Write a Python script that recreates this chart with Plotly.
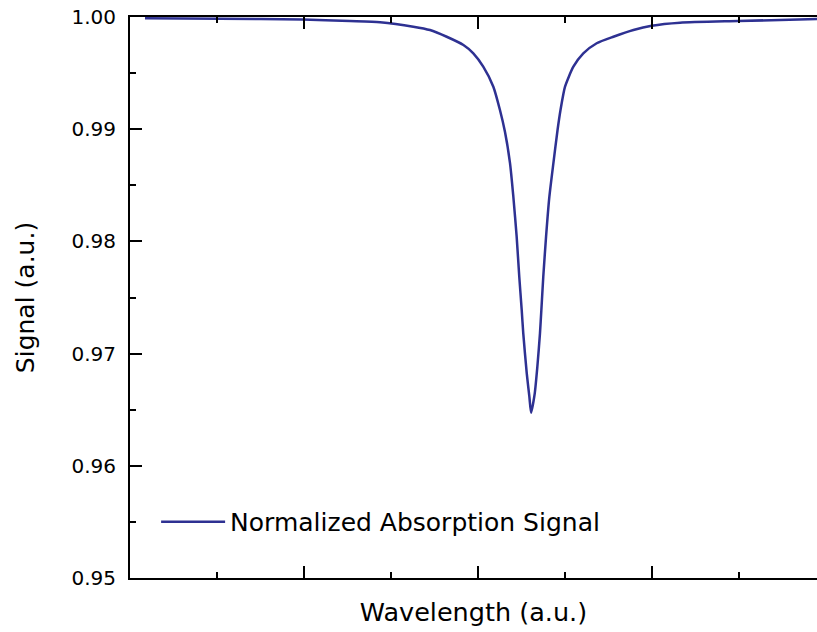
import plotly.graph_objects as go

# Wavelength (arbitrary units, major ticks at 0,1,2,3)
wavelength = [0.086, 0.517, 0.994, 1.264, 1.437, 1.628, 1.724, 1.820, 1.916, 1.973,
              2.030, 2.088, 2.126, 2.155, 2.184, 2.203, 2.222, 2.237, 2.251, 2.260,
              2.280, 2.295, 2.305, 2.326, 2.341, 2.356, 2.364, 2.375, 2.391, 2.410,
              2.433, 2.457, 2.474, 2.500, 2.548, 2.605, 2.682, 2.778, 2.893, 2.998,
              3.161, 3.494, 3.948]
signal = [0.99988, 0.99984, 0.99978, 0.99964, 0.99953, 0.99914, 0.99884, 0.99824, 0.99750, 0.99676,
          0.99557, 0.99379, 0.99171, 0.98975, 0.98696, 0.98398, 0.98042, 0.97685, 0.97389, 0.97181,
          0.96824, 0.96616, 0.96473, 0.96646, 0.96883, 0.97181, 0.97389, 0.97685, 0.98042, 0.98398,
          0.98696, 0.98993, 0.99171, 0.99379, 0.99557, 0.99676, 0.99766, 0.99824, 0.99884, 0.99922,
          0.99949, 0.99964, 0.99982]

series_name = "Normalized Absorption Signal"
x_title = "Wavelength (a.u.)"
y_title = "Signal (a.u.)"
y_tickvals = [0.95, 0.96, 0.97, 0.98, 0.99, 1.00]
y_ticktext = ["0.95", "0.96", "0.97", "0.98", "0.99", "1.00"]

LINE_COLOR = "#2E3192"
FONT = "DejaVu Sans, Verdana, sans-serif"

fig = go.Figure()
fig.add_trace(go.Scatter(
    x=wavelength, y=signal, mode="lines", name=series_name,
    line=dict(color=LINE_COLOR, width=2.5, shape="spline", smoothing=0.6),
    showlegend=True,
))

fig.update_layout(
    width=817, height=632,
    margin=dict(l=130, r=0, t=17, b=54, autoexpand=False),
    paper_bgcolor="white", plot_bgcolor="white",
    font=dict(family=FONT, color="black", size=20),
    showlegend=True,
    legend=dict(
        x=0.038, y=0.1, xanchor="left", yanchor="middle",
        bgcolor="rgba(0,0,0,0)", font=dict(size=25, family=FONT),
        itemwidth=64,
    ),
)

fig.update_xaxes(
    range=[0, 3.948], showgrid=False, zeroline=False,
    showline=True, linecolor="black", linewidth=2, mirror="ticks",
    ticks="inside", ticklen=12, tickwidth=2, tickcolor="black",
    tickvals=[0, 1, 2, 3], showticklabels=False,
    minor=dict(ticks="inside", ticklen=6, tickwidth=2, tickcolor="black",
               tickvals=[0.5, 1.5, 2.5, 3.5]),
    title=dict(text=x_title, font=dict(size=25.5, family=FONT), standoff=24),
    automargin=False,
)
fig.update_yaxes(
    range=[0.95, 1.00], showgrid=False, zeroline=False,
    showline=True, linecolor="black", linewidth=2,
    ticks="inside", ticklen=12, tickwidth=2, tickcolor="black",
    tickvals=y_tickvals, ticktext=y_ticktext,
    ticklabelstandoff=8, ticklabeloverflow="allow",
    tickfont=dict(size=20, family=FONT),
    minor=dict(ticks="inside", ticklen=6, tickwidth=2, tickcolor="black",
               tickvals=[0.955, 0.965, 0.975, 0.985, 0.995]),
    title=dict(text=y_title, font=dict(size=25, family=FONT), standoff=30),
    automargin=False,
)

fig.write_html(
    "out.html",
    config={"displayModeBar": False},
    post_script="document.body.style.margin='0';document.body.style.overflow='hidden';",
)
